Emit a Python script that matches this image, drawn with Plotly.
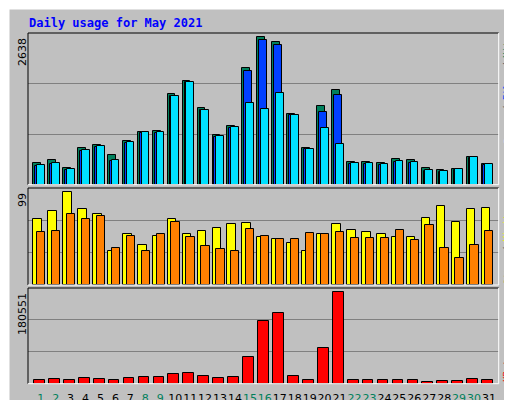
import plotly.graph_objects as go

days = list(range(1, 32))
hits = [382,436,292,650,710,531,776,937,955,1617,1856,1373,889,1050,2083,2638,2548,1259,651,1403,1689,400,400,382,454,436,292,257,275,489,364]
files = [340,375,270,610,680,425,750,930,930,1582,1832,1331,860,1020,2029,2584,2495,1241,633,1295,1600,370,375,360,410,395,250,230,270,485,355]
pages = [346,382,275,615,686,436,758,937,937,1582,1832,1331,865,1026,1456,1349,1635,1241,633,1015,722,382,382,364,418,400,257,239,275,489,364]
visits = [71,79,99,81,76,36,55,43,52,70,54,58,61,65,66,51,49,45,36,54,65,59,57,55,51,51,72,84,67,81,82]
sites = [57,58,76,70,74,40,52,36,54,67,51,42,38,36,60,52,49,49,56,55,57,50,50,50,59,48,64,39,29,43,58]
kbytes = [6590,8566,6590,10543,8566,6590,10543,12520,12520,18450,20427,14497,10543,12520,52056,123222,139036,14497,6590,69848,180551,6590,6590,6590,6590,6590,2636,4613,4613,8566,6590]
weekend = {1,2,8,9,15,16,22,23,29,30}
ticktext = [f"<span style='color:#00805C'>{d}</span>" if d in weekend else str(d) for d in days]

fig = go.Figure()
ln = dict(color="black", width=1)
def bar(y, color, off, w, xa, ya):
    fig.add_trace(go.Bar(x=days, y=y, offset=off, width=w, marker=dict(color=color, line=ln),
                         xaxis=xa, yaxis=ya, showlegend=False, hoverinfo="skip"))
bar(hits, "#00805C", -0.5, 0.52, "x", "y")
bar(files, "#0040FF", -0.37, 0.52, "x", "y")
bar(pages, "#00E0FF", -0.25, 0.52, "x", "y")
bar(visits, "#FFFF00", -0.5, 0.58, "x2", "y2")
bar(sites, "#FF8000", -0.25, 0.55, "x2", "y2")
bar(kbytes, "#FF0000", -0.45, 0.72, "x3", "y3")

xr = [0.15, 31.65]
xd = [20/512, 490.7/512]
common_x = dict(range=xr, domain=xd, showgrid=False, zeroline=False, fixedrange=True)
def ya(dom, top):
    return dict(domain=dom, range=[0, top], tickvals=[top/3, 2*top/3], showticklabels=False,
                gridcolor="#808080", gridwidth=1, zeroline=False, showline=False, ticks="")
fig.update_layout(
    width=512, height=400, margin=dict(l=0, r=0, t=0, b=0),
    paper_bgcolor="#C0C0C0", plot_bgcolor="#C0C0C0", barmode="overlay", bargap=0,
    xaxis=dict(**common_x, anchor="y", showticklabels=False),
    xaxis2=dict(**common_x, anchor="y2", showticklabels=False),
    xaxis3=dict(**common_x, anchor="y3", tickvals=days, ticktext=ticktext, ticks="outside", tickangle=0,
                ticklen=4, tickcolor="rgba(0,0,0,0)", tickfont=dict(family="DejaVu Sans", size=11, color="black")),
    yaxis=ya([1-176.7/400, 1-25/400], 2715),
    yaxis2=ya([1-277/400, 1-180/400], 103.6),
    yaxis3=ya([1-375.7/400, 1-280/400], 189117),
)

shapes = []
def L(x0, y0, x1, y1, c, w=1):
    shapes.append(dict(type="line", xref="paper", yref="paper", x0=x0/512, y0=1-y0/400, x1=x1/512, y1=1-y1/400, line=dict(color=c, width=w)))
L(0.5, 0, 0.5, 400, "white", 2); L(0, 0.5, 512, 0.5, "white", 2)
L(511, 0, 511, 400, "#808080", 2); L(0, 399, 512, 399, "#808080", 2)
for (t, b) in [(25, 176.7), (180, 277), (280, 375.7)]:
    L(20, t, 490.7, t, "black"); L(20, t, 20, b, "black")
    L(20, b, 490.7, b, "white"); L(490.7, t, 490.7, b, "white")
fig.update_layout(shapes=shapes)

mono = "DejaVu Sans Mono"
ann = [
    dict(text="<b>Daily usage for May 2021</b>", x=19/512, y=1-15/400, xanchor="left", yanchor="middle",
         font=dict(family=mono, size=12, color="#0000FF")),
]
for txt, yy in [("2638", 28), ("99", 183), ("180551", 283)]:
    ann.append(dict(text=txt, x=14/512, y=1-yy/400, textangle=-90, xanchor="center", yanchor="top",
                    font=dict(family="DejaVu Sans", size=11, color="black")))

cw = 5.4
def vlabel(parts, top):
    y = top
    for word, col in parts:
        h = len(word) * cw
        ann.append(dict(text=word, x=499/512, y=1-(y + h/2)/400, textangle=-90, xanchor="center", yanchor="middle",
                        font=dict(family=mono, size=9, color=col)))
        y += h
sl = ("/", "#404040")
vlabel([("Hits", "#00805C"), (" ", "#000"), sl, (" ", "#000"), ("Files", "#0040FF"), (" ", "#000"), sl, (" ", "#000"), ("Pages", "#00E0FF")], 28)
vlabel([("Visits", "#FFFF00"), (" ", "#000"), sl, (" ", "#000"), ("Sites", "#FF8000")], 277 - 14*cw)
vlabel([("KBytes", "#FF0000")], 374 - 6*cw)
for a in ann:
    a.update(xref="paper", yref="paper", showarrow=False)
ann = [a for a in ann if a["text"].strip()]
fig.update_layout(annotations=ann)
fig.write_html("out.html")
